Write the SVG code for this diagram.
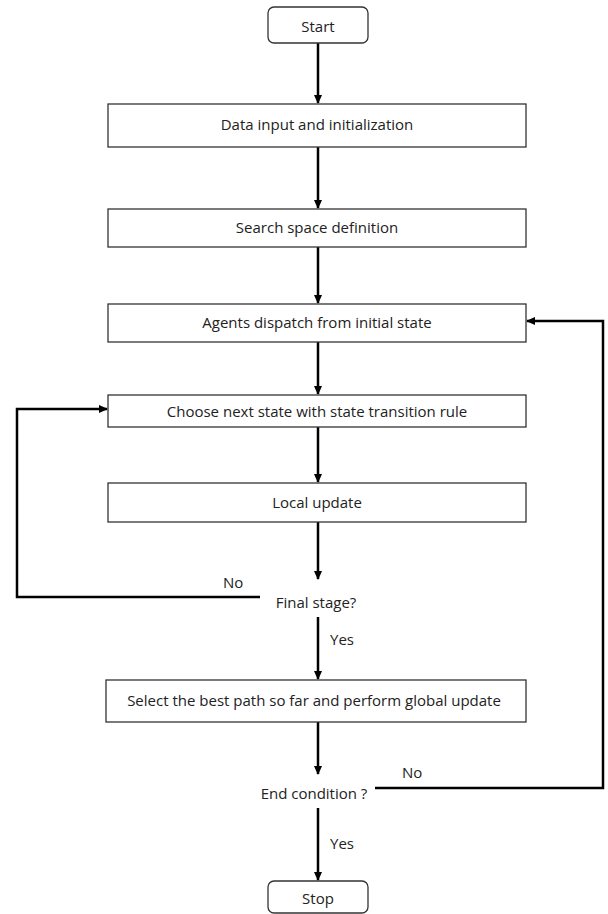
<svg xmlns="http://www.w3.org/2000/svg" width="608" height="914" viewBox="0 0 608 914">
<style>
.box{fill:#fff;stroke:#333;stroke-width:1.3}
.t{font-family:"Open Sans","Noto Sans",sans-serif;font-size:15px;fill:#222;text-anchor:middle;dominant-baseline:central}
.tl{font-family:"Open Sans","Noto Sans",sans-serif;font-size:15px;fill:#222;dominant-baseline:central}
.c{fill:none;stroke:#000;stroke-width:2.5}
</style>
<defs>
<marker id="ah" markerWidth="10" markerHeight="10" refX="8" refY="5" orient="auto" markerUnits="userSpaceOnUse">
<path d="M0,1 L9,5 L0,9 Z" fill="#000"/>
</marker>
</defs>
<rect width="608" height="914" fill="#fff"/>
<g id="connectors">
<line class="c" x1="318" y1="43" x2="318" y2="103" marker-end="url(#ah)"/>
<line class="c" x1="318" y1="147" x2="318" y2="208" marker-end="url(#ah)"/>
<line class="c" x1="318" y1="247" x2="318" y2="303" marker-end="url(#ah)"/>
<line class="c" x1="318" y1="342" x2="318" y2="394" marker-end="url(#ah)"/>
<line class="c" x1="318" y1="427" x2="318" y2="482" marker-end="url(#ah)"/>
<line class="c" x1="318" y1="522" x2="318" y2="579" marker-end="url(#ah)"/>
<line class="c" x1="318" y1="617" x2="318" y2="679" marker-end="url(#ah)"/>
<line class="c" x1="318" y1="722" x2="318" y2="774" marker-end="url(#ah)"/>
<line class="c" x1="318" y1="808" x2="318" y2="880" marker-end="url(#ah)"/>
<polyline class="c" points="260,597 17,597 17,409 107,409" marker-end="url(#ah)"/>
<polyline class="c" points="375,788 603,788 603,321 527,321" marker-end="url(#ah)"/>
<text class="tl" x="223" y="582">No</text>
<text class="tl" x="330" y="639">Yes</text>
<text class="tl" x="402" y="772">No</text>
<text class="tl" x="330" y="843">Yes</text>
</g>
<g id="start"><rect class="box" x="268" y="7" width="100" height="36" rx="6"/><text class="t" x="318" y="26">Start</text></g>
<g id="data"><rect class="box" x="108" y="104" width="418" height="43"/><text class="t" x="317" y="124">Data input and initialization</text></g>
<g id="search"><rect class="box" x="108" y="209" width="418" height="38"/><text class="t" x="317" y="227">Search space definition</text></g>
<g id="agents"><rect class="box" x="108" y="304" width="418" height="38"/><text class="t" x="317" y="322">Agents dispatch from initial state</text></g>
<g id="choose"><rect class="box" x="108" y="395" width="418" height="32"/><text class="t" x="317" y="411">Choose next state with state transition rule</text></g>
<g id="local"><rect class="box" x="108" y="483" width="418" height="39"/><text class="t" x="317" y="502">Local update</text></g>
<g id="final"><text class="t" x="316" y="602">Final stage?</text></g>
<g id="select"><rect class="box" x="106" y="680" width="420" height="42"/><text class="t" x="314" y="700">Select the best path so far and perform global update</text></g>
<g id="end"><text class="t" x="314" y="793">End condition ?</text></g>
<g id="stop"><rect class="box" x="268" y="881" width="100" height="32" rx="6"/><text class="t" x="318" y="898">Stop</text></g>
</svg>
